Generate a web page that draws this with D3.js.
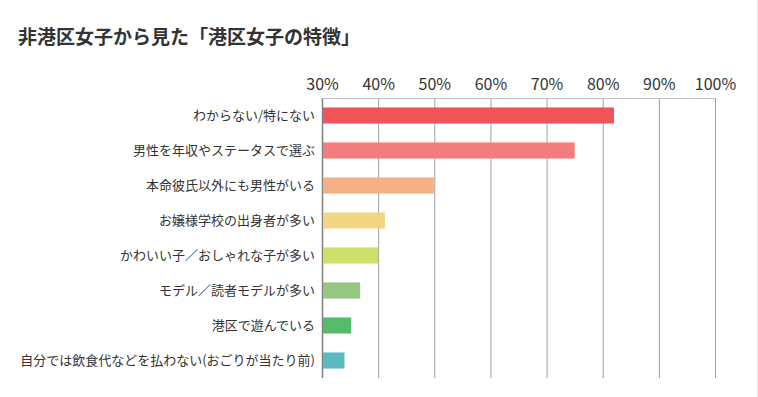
<!DOCTYPE html>
<html>
<head>
<meta charset="utf-8">
<script src="https://cdn.jsdelivr.net/npm/d3@7"></script>
<style>
  body { margin: 0; background: #fff; }
  text { font-family: "Noto Sans CJK JP", "Noto Sans", sans-serif; fill: #333; }
</style>
</head>
<body>
<div id="chart"></div>
<script>
const title = '非港区女子から見た「港区女子の特徴」';

const categories = [
  'わからない/特にない',
  '男性を年収やステータスで選ぶ',
  '本命彼氏以外にも男性がいる',
  'お嬢様学校の出身者が多い',
  'かわいい子／おしゃれな子が多い',
  'モデル／読者モデルが多い',
  '港区で遊んでいる',
  '自分では飲食代などを払わない(おごりが当たり前)',
];

const values = [0.82, 0.75, 0.50, 0.412, 0.40, 0.368, 0.352, 0.34];

const barColors = ['#ef5458', '#f47c7e', '#f5b183', '#f3d685', '#cfe069', '#96c781', '#56bb6a', '#5bb9c1'];

const tickValues = [0.3, 0.4, 0.5, 0.6, 0.7, 0.8, 0.9, 1.0];

const totalWidth = 758;
const totalHeight = 397;

const margin = {
  top: 98,
  right: 43,
  bottom: 19,
  left: 322,
};

const width = totalWidth - margin.left - margin.right;
const height = totalHeight - margin.top - margin.bottom;

const xScale = d3.scaleLinear()
  .domain([0.3, 1.0])
  .range([0, width]);

const yScale = d3.scaleBand()
  .domain(categories)
  .range([0, height])
  .paddingInner(0.54)
  .paddingOuter(0.27);

const svg = d3.select('#chart').append('svg')
  .attr('width', totalWidth)
  .attr('height', totalHeight);

// page edge on the right
svg.append('line')
  .attr('x1', totalWidth - 0.5)
  .attr('x2', totalWidth - 0.5)
  .attr('y1', 0)
  .attr('y2', totalHeight)
  .attr('stroke', '#e4e4e4');

svg.append('text')
  .attr('x', 18)
  .attr('y', 44)
  .style('font-size', '19px')
  .style('font-weight', 'bold')
  .text(title);

const g = svg.append('g')
  .attr('transform', `translate(${margin.left},${margin.top})`);

const xAxis = d3.axisTop(xScale)
  .tickValues(tickValues)
  .tickSize(-height)
  .tickPadding(8)
  .tickFormat(d3.format('.0%'));

const axisG = g.append('g')
  .attr('class', 'x axis')
  .call(xAxis);

axisG.select('.domain').remove();
axisG.selectAll('.tick line')
  .attr('stroke', (d, i) => (i === 0 ? '#808080' : '#a0a0a0'))
  .attr('stroke-width', (d, i) => (i === 0 ? 1.5 : 1));
axisG.selectAll('.tick text')
  .style('font-size', '16px')
  .attr('fill', '#333');

// top frame line
g.append('line')
  .attr('x1', xScale(0.3))
  .attr('x2', xScale(1.0))
  .attr('y1', 0.5)
  .attr('y2', 0.5)
  .attr('stroke', '#c0c0c0');

g.selectAll('.bar')
  .data(values)
  .enter()
  .append('rect')
  .attr('class', 'bar')
  .attr('x', xScale(0.3) + 1)
  .attr('y', (d, i) => yScale(categories[i]))
  .attr('width', d => xScale(d) - xScale(0.3) - 1)
  .attr('height', yScale.bandwidth())
  .attr('fill', (d, i) => barColors[i]);

g.selectAll('.label')
  .data(categories)
  .enter()
  .append('text')
  .attr('class', 'label')
  .attr('x', -7)
  .attr('y', d => yScale(d) + yScale.bandwidth() / 2)
  .attr('dy', '0.35em')
  .attr('text-anchor', 'end')
  .style('font-size', '13px')
  .text(d => d);
</script>
</body>
</html>
